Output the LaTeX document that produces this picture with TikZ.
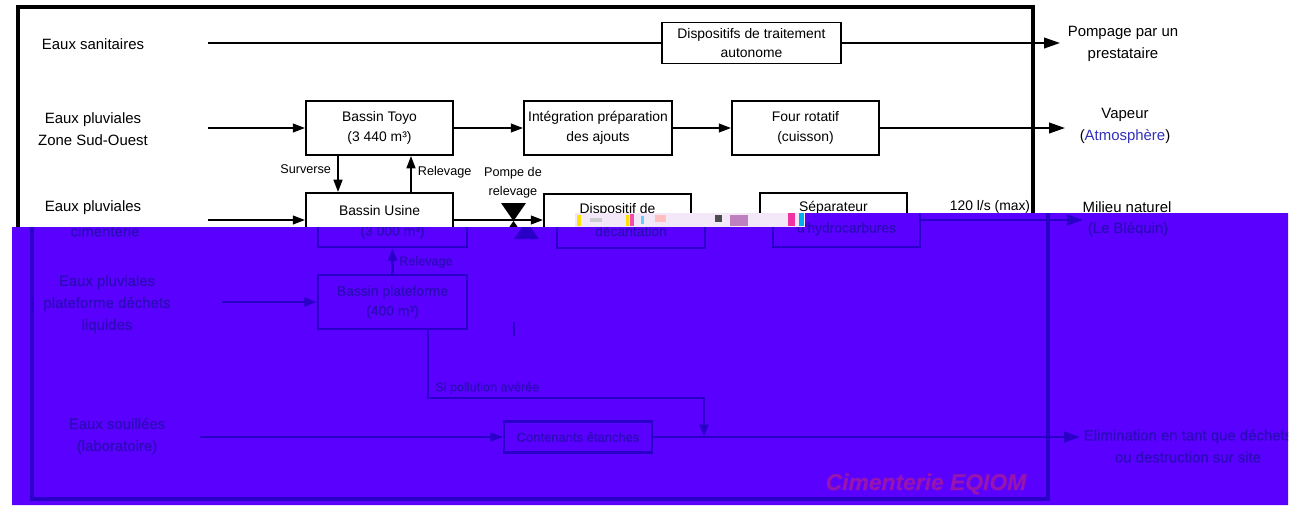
\documentclass[tikz,border=0pt]{standalone}
\usepackage{fontspec}
\setmainfont{Liberation Sans}
\newfontfamily\heavyfont[FakeBold=0.8]{Liberation Sans}
\usetikzlibrary{arrows.meta}
\definecolor{bbg}{RGB}{90,0,255}
\definecolor{bline}{RGB}{42,0,200}
\definecolor{btext}{RGB}{44,12,185}
\definecolor{atm}{RGB}{50,50,185}
\definecolor{wm}{RGB}{150,20,175}
\definecolor{noisebg}{RGB}{242,232,248}
\tikzset{
  lbl/.style={font=\fontsize{8.5}{12.5}\selectfont, align=center, inner sep=0pt},
  btx/.style={font=\fontsize{7.9}{11.3}\selectfont, align=center, inner sep=0pt},
  sm/.style={font=\fontsize{7.2}{10.8}\selectfont, align=center, inner sep=0pt},
  box/.style={draw, line width=1.1pt, btx},
  arr/.style={-{Triangle[length=7pt,width=5pt]}},
  bigarr/.style={-{Triangle[length=9pt,width=6pt]}},
}
\begin{document}
\begin{tikzpicture}[x=0.02cm, y=-0.02cm, line width=1.1pt]
\useasboundingbox (0,0) rectangle (1296,505);
\fill[white] (0,0) rectangle (1296,505);

% ---------- upper (black) part ----------
\draw[line width=2pt] (18,7) rectangle (1033,499);

% row 1
\node[lbl] (sani) at (93,44) {Eaux sanitaires};
\coordinate (s0) at (208,43);
\node[box, minimum width=3.58cm, minimum height=0.82cm] (auto) at (751.5,43) {Dispositifs de traitement\\autonome};
\coordinate (s1) at (1060,43);
\node[lbl] (pomp) at (1123,44) {Pompage par un\\prestataire};
\draw (s0) -- (auto.west);
\draw[bigarr] (auto.east) -- (s1);

% row 2
\node[lbl] (sud) at (93,129) {Eaux pluviales\\Zone Sud-Ouest};
\coordinate (t0) at (208,128);
\node[box, minimum width=2.94cm, minimum height=1.08cm] (toyo) at (379.5,128) {Bassin Toyo\\(3 440 m³)};
\node[box, minimum width=2.96cm, minimum height=1.08cm] (integ) at (598,128) {Intégration préparation\\des ajouts};
\node[box, minimum width=2.94cm, minimum height=1.08cm] (four) at (805.5,128) {Four rotatif\\(cuisson)};
\coordinate (t1) at (1065,128);
\node[lbl] (vap) at (1125,126) {Vapeur\\(\textcolor{atm}{Atmosphère})};
\draw[arr] (t0) -- (toyo.west);
\draw[arr] (toyo.east) -- (integ.west);
\draw[arr] (integ.east) -- (four.west);
\draw[bigarr] (four.east) -- (t1);

% row 3 (visible top)
\node[lbl] (cim1) at (93,208) {Eaux pluviales};
\coordinate (u0) at (208,220);
\node[box, minimum width=2.94cm, minimum height=1.08cm] (usine) at (379.5,220) {};
\node[btx] (usineT) at (379.5,211) {Bassin Usine};
\draw[arr] (u0) -- (usine.west);
\draw[arr] ([xshift=-0.83cm]toyo.south) -- ([xshift=-0.83cm]usine.north);
\draw[arr] ([xshift=0.63cm]usine.north) -- ([xshift=0.63cm]toyo.south);
\node[sm, anchor=east] (surv) at (332,169) {Surverse};
\node[sm, anchor=west] (rel1) at (417,172) {Relevage};
\node[sm] (pompe) at (513,182.5) {Pompe de\\relevage};
\node[box, minimum width=2.94cm, minimum height=1.08cm] (decant) at (617.5,221) {};
\node[btx] (decantT) at (617.5,210) {Dispositif de};
\node[box, minimum width=2.94cm, minimum height=1.08cm] (sep) at (833.5,220) {};
\node[btx] (sepT) at (833.5,208) {Séparateur};
\draw[arr] (usine.east) -- (usine.east -| decant.west);
\coordinate (pump) at (513.5,221);
\fill (501,203) -- (526,203) -- (pump) -- cycle;
\fill (pump) -- (501,239) -- (526,239) -- cycle;
\node[btx] (debit) at (990,207) {120 l/s (max)};
\node[lbl] (milieu) at (1127,207) {Milieu naturel};

% ---------- damaged strip ----------
\fill[noisebg] (575,213) rectangle (805,227);
\fill[yellow!85!orange] (577,215) rectangle (581,226);
\fill[gray!40] (590,218) rectangle (602,222);
\fill[yellow!80!orange] (626,215) rectangle (629,226);
\fill[magenta!70] (630,214) rectangle (634,226);
\fill[cyan!60] (641,216) rectangle (644,224);
\fill[pink] (655,215) rectangle (666,222);
\fill[black!70] (715,215) rectangle (722,222);
\fill[violet!50] (730,215) rectangle (748,226);
\fill[magenta!80] (788,213) rectangle (795,226);
\fill[cyan] (799,213) rectangle (804,226);

% ---------- lower (blue) part ----------
\fill[bbg] (12,227) -- (805,227) -- (805,213) -- (1288,213) -- (1288,505) -- (12,505) -- cycle;
\begin{scope}[bline, line width=1.4pt, every node/.append style={text=btext, execute at begin node=\heavyfont}]
\clip (12,227) -- (805,227) -- (805,213) -- (1288,213) -- (1288,505) -- (12,505) -- cycle;
\draw[line width=2.2pt] (32,150) rectangle (1048,499);

\node[lbl] (cim2) at (105,231) {cimentérie};
\node[box, line width=1.4pt, minimum width=2.98cm, minimum height=0.94cm] (usineB) at (392.5,223.5) {};
\node[btx] (usineB2) at (392.5,232) {(3 000 m³)};
\node[box, line width=1.4pt, minimum width=2.98cm, minimum height=1.08cm] (plat) at (392.5,302) {Bassin plateforme\\(400 m³)};
\draw[arr] (plat.north) -- (usineB.south);
\node[sm, anchor=west] (rel2) at (398,262) {Relevage};
\node[lbl] (platL) at (107,304) {Eaux pluviales\\plateforme déchets\\liquides};
\coordinate (p0) at (222,302);
\draw[arr] (p0) -- (plat.west);

\fill (514,239) -- (539,239) -- (526.5,221) -- cycle;
\node[box, line width=1.4pt, minimum width=2.96cm, minimum height=0.96cm] (decantB) at (631,224) {};
\node[btx] (decantB2) at (631,231) {décantation};
\node[box, line width=1.4pt, minimum width=2.94cm, minimum height=0.94cm] (sepB) at (846.5,223.5) {};
\node[btx] (sepB2) at (846.5,229) {d'hydrocarbures};
\coordinate (m1) at (1083,220);
\draw[bigarr] (sepB.east |- m1) -- (m1);
\node[lbl] (blequin) at (1128,229) {(Le Bléquin)};

\draw[line width=0.6pt] (514,322) -- (514,336);
\coordinate (pol) at (704,398);
\coordinate (pj) at (704,437);
\draw[arr] ([xshift=0.71cm]plat.south) |- (pol) -- (pj);
\node[sm, anchor=west] (polL) at (434,388) {Si pollution avérée};

\node[lbl] (souil) at (117,436) {Eaux souillées\\(laboratoire)};
\coordinate (c0) at (200,437);
\node[box, line width=1.4pt, minimum width=2.96cm, minimum height=0.62cm, font=\fontsize{7.4}{9}\selectfont] (cont) at (578,437) {Contenants étanches};
\draw[arr] (c0) -- (cont.west);
\coordinate (e1) at (1080,437);
\draw[bigarr] (cont.east) -- (e1);
\node[lbl] (elim) at (1188,446) {Elimination en tant que déchets\\ou destruction sur site};
\node[font=\fontsize{13}{13}\selectfont\bfseries\itshape, text=wm, inner sep=0pt] (wmk) at (926,484) {Cimenterie EQIOM};
\end{scope}
\end{tikzpicture}
\end{document}
